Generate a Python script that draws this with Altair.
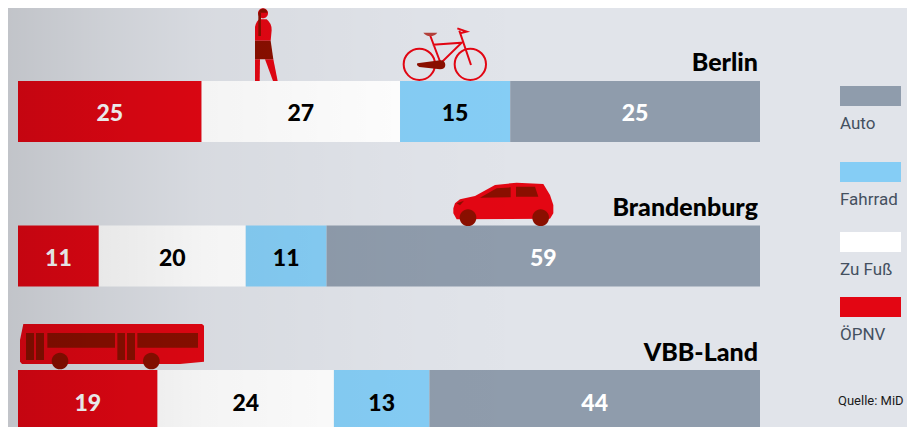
import altair as alt
import pandas as pd

rows = ["Berlin", "Brandenburg", "VBB-Land"]
modes = ["ÖPNV", "Zu Fuß", "Fahrrad", "Auto"]
colors = ["#e30613", "#ffffff", "#85cdf5", "#8f9cac"]
inks = ["#ffffff", "#000000", "#000000", "#ffffff"]
berlin_w = [25, 27, 15, 34]
brandenburg_w = [11, 20, 11, 59]
vbb_w = [19, 24, 13, 45]
berlin_l = ["25", "27", "15", "25"]
brandenburg_l = ["11", "20", "11", "59"]
vbb_l = ["19", "24", "13", "44"]
legend_order = ["Auto", "Fahrrad", "Zu Fuß", "ÖPNV"]
source = "Quelle: MiD"

recs = []
for r, ws, ls in zip(rows, [berlin_w, brandenburg_w, vbb_w], [berlin_l, brandenburg_l, vbb_l]):
    c = 0
    for m, w, l, ink in zip(modes, ws, ls, inks):
        recs.append(dict(row=r, mode=m, x0=c, x1=c + w, mid=c + w / 2, label=l, ink=ink))
        c += w
df = pd.DataFrame(recs)

W, H = 899, 419
xs = alt.Scale(domain=[0, 101], range=[10, 752], nice=False)
ys = alt.Scale(domain=rows, range=[73, 423], paddingInner=0.578, paddingOuter=0)
cs = alt.Scale(domain=modes, range=colors)
X = alt.X("x0:Q", scale=xs, axis=None)
Y = alt.Y("row:N", scale=ys, axis=None, sort=rows)

bars = alt.Chart(df).mark_rect().encode(
    x=X, x2="x1:Q", y=Y, color=alt.Color("mode:N", scale=cs, legend=None)
)
labels = alt.Chart(df).mark_text(
    font="Lato", fontWeight=900, fontSize=23, dy=3
).encode(
    x=alt.X("mid:Q", scale=xs, axis=None), y=Y, text="label:N",
    color=alt.Color("ink:N", scale=None),
)
titles = alt.Chart(pd.DataFrame({"row": rows})).mark_text(
    font="Lato", fontWeight=900, fontSize=25, align="right", baseline="alphabetic",
    dy=-40, color="#000000"
).encode(x=alt.value(750), y=Y, text="row:N")

layers = [bars, labels, titles]

# legend
LEG_Y = {"Auto": 78, "Fahrrad": 154, "Zu Fuß": 224, "ÖPNV": 289}
for m in legend_order:
    d = pd.DataFrame({"mode": [m]})
    y = LEG_Y[m]
    layers.append(alt.Chart(d).mark_rect().encode(
        x=alt.value(832), x2=alt.value(893), y=alt.value(y), y2=alt.value(y + 20),
        color=alt.Color("mode:N", scale=cs, legend=None)))
    layers.append(alt.Chart(d).mark_text(
        font="Roboto", fontSize=17, color="#44505f", align="left", baseline="alphabetic"
    ).encode(x=alt.value(832), y=alt.value(y + 43), text="mode:N"))
layers.append(alt.Chart(pd.DataFrame({"t": [source]})).mark_text(
    font="Roboto", fontSize=13, color="#1a1a1a", align="left", baseline="alphabetic"
).encode(x=alt.value(830), y=alt.value(397), text="t:N"))


def circ(cx, cy, r):
    return f"M{cx-r},{cy}A{r},{r} 0 1,0 {cx+r},{cy}A{r},{r} 0 1,0 {cx-r},{cy}Z"


def rect(x0, y0, x1, y1):
    return f"M{x0},{y0}L{x1},{y0}L{x1},{y1}L{x0},{y1}Z"


RED = "#e30613"
DARK = "#8a0f00"
# each icon: anchor on the page and shapes in 3x units
icons = [
    ((0, 0), [
        ("M765,243L765,178L780,178L779,243Z", RED, True),
        ("M795,178L820,178L833,243L819,243Z", RED, True),
        ("M765,122L765,80Q770,62 778,58L800,58Q815,70 815,90L812,122Z", RED, True),
        (circ(789, 40, 15), RED, True),
        ("M765,122L812,122L820,178L765,178Z", DARK, True),
        ("M775,38Q780,26 789,26Q800,26 803,38Z", DARK, True),
        (rect(775, 38, 783, 108), DARK, True),
    ]),
    ((0, 0), [
        (circ(1258, 193, 47), RED, False),
        (circ(1411, 193, 47), RED, False),
        ("M1290,105L1322,190L1385,128L1298,134M1378,92L1413,195M1372,85L1400,95L1380,100", RED, False),
        ("M1270,98L1312,98Q1305,108 1290,108Q1278,108 1270,98Z", "#b4403a", True),
        ("M1252,190L1320,181Q1335,180 1336,195Q1335,208 1320,208L1258,201Q1248,196 1252,190Z", DARK, True),
    ]),
    ((440, 170), [
        ("M40,115L45,100L60,88L105,78L165,45L230,38L310,42L330,75L340,105L340,130L330,146L50,148L40,130Z", RED, True),
        ("M120,83L170,55L212,52L212,82Z", DARK, True),
        ("M228,50L285,50L295,80L228,80Z", DARK, True),
        ("M50,100L72,92L60,106Z", DARK, True),
        (circ(84, 143, 25), DARK, True),
        (circ(302, 143, 25), DARK, True),
    ]),
    ((0, 315), [
        ("M70,27L606,27L612,32L612,140L540,147L66,147L60,140L60,75Z", RED, True),
        (rect(78, 54, 102, 135), DARK, True),
        (rect(108, 54, 132, 135), DARK, True),
        (rect(142, 54, 345, 98), DARK, True),
        (rect(352, 54, 375, 135), DARK, True),
        (rect(381, 54, 405, 135), DARK, True),
        (rect(412, 54, 594, 98), DARK, True),
        (circ(180, 138, 25), DARK, True),
        (circ(454, 138, 25), DARK, True),
    ]),
]
for (ax, ay), shapes in icons:
    for path, col, filled in shapes:
        layers.append(alt.Chart(pd.DataFrame({"k": [0]})).mark_point(
            shape=path, size=4 / 9, opacity=1, filled=filled,
            **({"color": col} if filled else {"color": col, "strokeWidth": 2})
        ).encode(x=alt.value(ax - 8), y=alt.value(ay - 8)))

# shading from the left, on top of everything
shade = alt.Gradient(
    gradient="linear", x1=0, x2=1, y1=0, y2=0,
    stops=[
        alt.GradientStop(color="rgba(0,0,0,0.14)", offset=0),
        alt.GradientStop(color="rgba(0,0,0,0.085)", offset=0.19),
        alt.GradientStop(color="rgba(0,0,0,0.045)", offset=0.38),
        alt.GradientStop(color="rgba(0,0,0,0.012)", offset=0.76),
        alt.GradientStop(color="rgba(0,0,0,0)", offset=1),
    ],
)
layers.append(alt.Chart(pd.DataFrame({"k": [0]})).mark_rect(color=shade).encode(
    x=alt.value(0), x2=alt.value(520), y=alt.value(0), y2=alt.value(H)))

chart = alt.layer(*layers).resolve_scale(color="independent").properties(
    width=W, height=H, padding=0, background="#e1e4ea",
    autosize=alt.AutoSizeParams(type="none"),
).configure_view(stroke=None)

chart.save("out.html", embed_options={"renderer": "svg", "actions": False})
